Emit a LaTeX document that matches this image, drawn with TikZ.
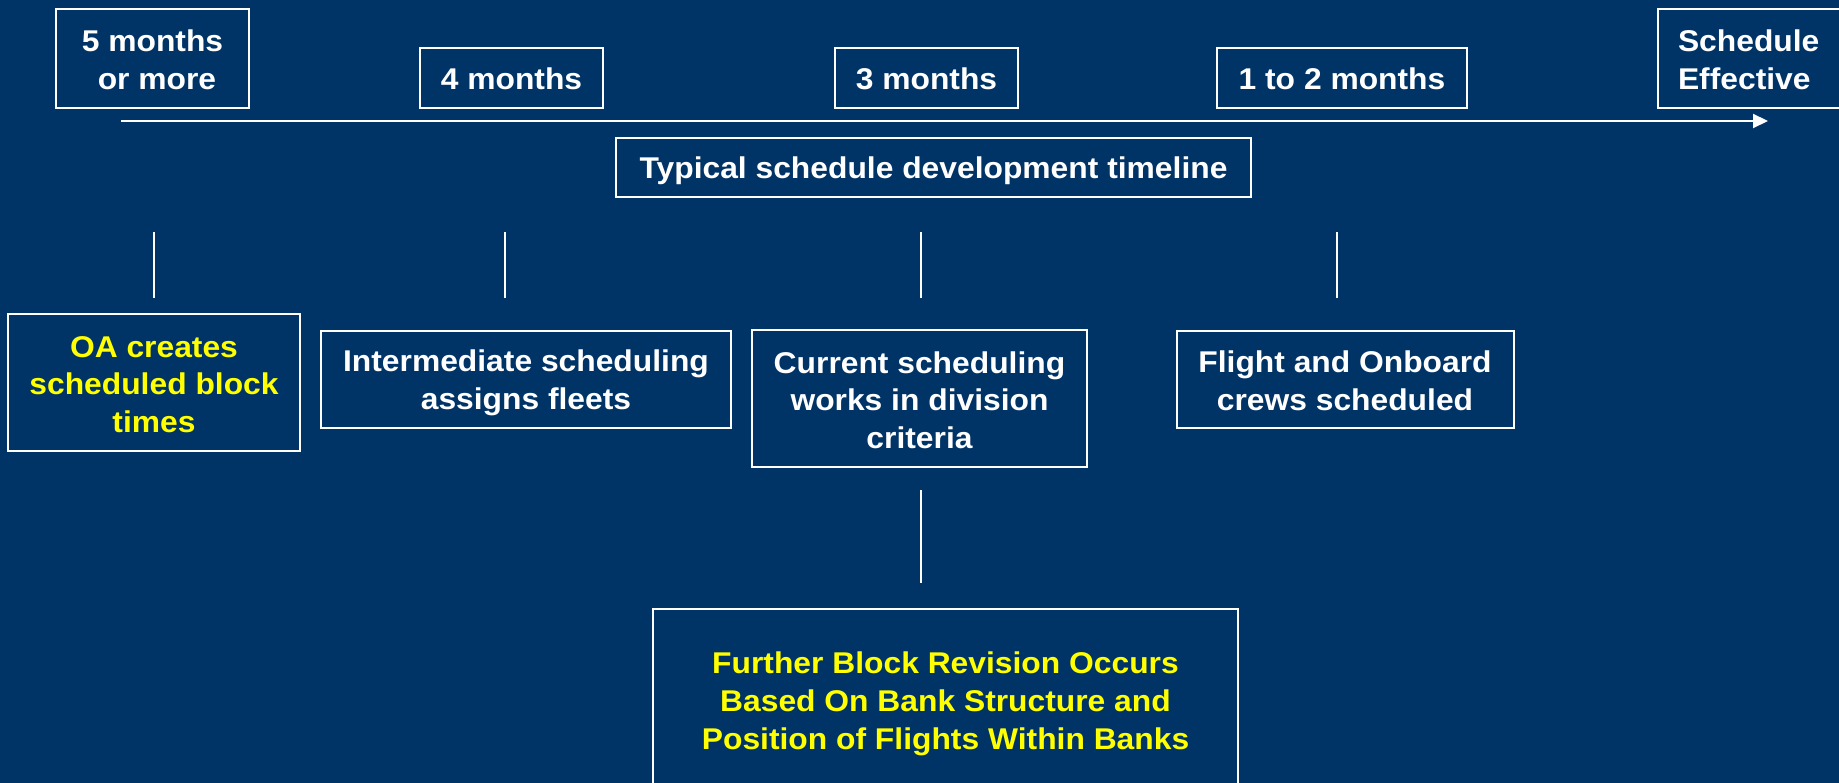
\documentclass[tikz,border=0pt]{standalone}
\usepackage{fontspec}
\setmainfont{Liberation Sans}[FakeStretch=1.06]
\usetikzlibrary{arrows.meta}
\definecolor{navy}{RGB}{0,51,102}
\definecolor{hiyellow}{RGB}{255,255,0}
% fixed line strut, so every text block is centred on its line boxes
\newcommand{\lstrut}{\rule[-4pt]{0pt}{32pt}}
\begin{document}
\begin{tikzpicture}[x=1pt,y=-1pt,
  box/.style={draw=white, line width=2pt, text=white,
    font=\fontsize{30}{37.5}\selectfont\bfseries, align=center,
    inner sep=0pt, anchor=center},
  note/.style={box, text=hiyellow},
  tickline/.style={draw=white, line width=1.5pt},
  timeline/.style={draw=white, line width=2pt,
    -{Triangle[length=15pt,width=14pt]}}]
% background and page frame
\fill[navy] (0,0) rectangle (1839,783);
\useasboundingbox (0,0) rectangle (1839,783);
\clip (0,0) rectangle (1839,783);

% time markers above the axis
\node[box, minimum width=193pt, minimum height=99pt] (m5) at (152.5,58.5)
  {\lstrut 5 months\\\hspace*{0.3em}or more\lstrut};
\node[box, minimum width=183pt, minimum height=60pt] (m4) at (511.5,78) {\lstrut 4 months};
\node[box, minimum width=183pt, minimum height=60pt] (m3) at (926.5,78) {\lstrut 3 months};
\node[box, minimum width=250pt, minimum height=60pt] (m12) at (1342,78) {\lstrut 1 to 2 months};
\node[box, align=left, text width=150pt, inner xsep=20pt, minimum height=99pt,
  anchor=west] (eff) at (1657,58.5) {\lstrut Schedule\\Effective\lstrut};

% axis
\coordinate (axstart) at (121,121);
\coordinate (axend) at (1768,121);
\draw[timeline] (axstart) -- (axend);

\node[box, minimum width=635pt, minimum height=59pt] (typ) at (933.5,167.5)
  {\lstrut Typical schedule development timeline};

% tick marks
\foreach \n/\x in {a/154, b/505, c/921, d/1337} {
  \coordinate (\n top) at (\x,232);
  \coordinate (\n bot) at (\x,298);
  \draw[tickline] (\n top) -- (\n bot);
}

% activities
\node[note, minimum width=292pt, minimum height=137pt] (oa) at (154,382.5)
  {\lstrut OA creates\\scheduled block\\times\lstrut};
\node[box, minimum width=410pt, minimum height=97pt] (inter) at (526,379.5)
  {\lstrut Intermediate scheduling\\assigns fleets\lstrut};
\node[box, minimum width=335pt, minimum height=137pt] (cur) at (919.5,398.5)
  {\lstrut Current scheduling\\works in division\\criteria\lstrut};
\node[box, minimum width=337pt, minimum height=97pt] (crew) at (1345,379.5)
  {\lstrut Flight and Onboard\\crews scheduled\lstrut};

% follow-up under current scheduling
\coordinate (ftop) at (921,490);
\coordinate (fbot) at (921,583);
\draw[tickline] (ftop) -- (fbot);
\node[note, minimum width=585pt, minimum height=184pt, font=\fontsize{30}{38}\selectfont\bfseries]
  (further) at (945.5,701)
  {\lstrut Further Block Revision Occurs\\Based On Bank Structure and\\Position of Flights Within Banks\lstrut};
\end{tikzpicture}
\end{document}
